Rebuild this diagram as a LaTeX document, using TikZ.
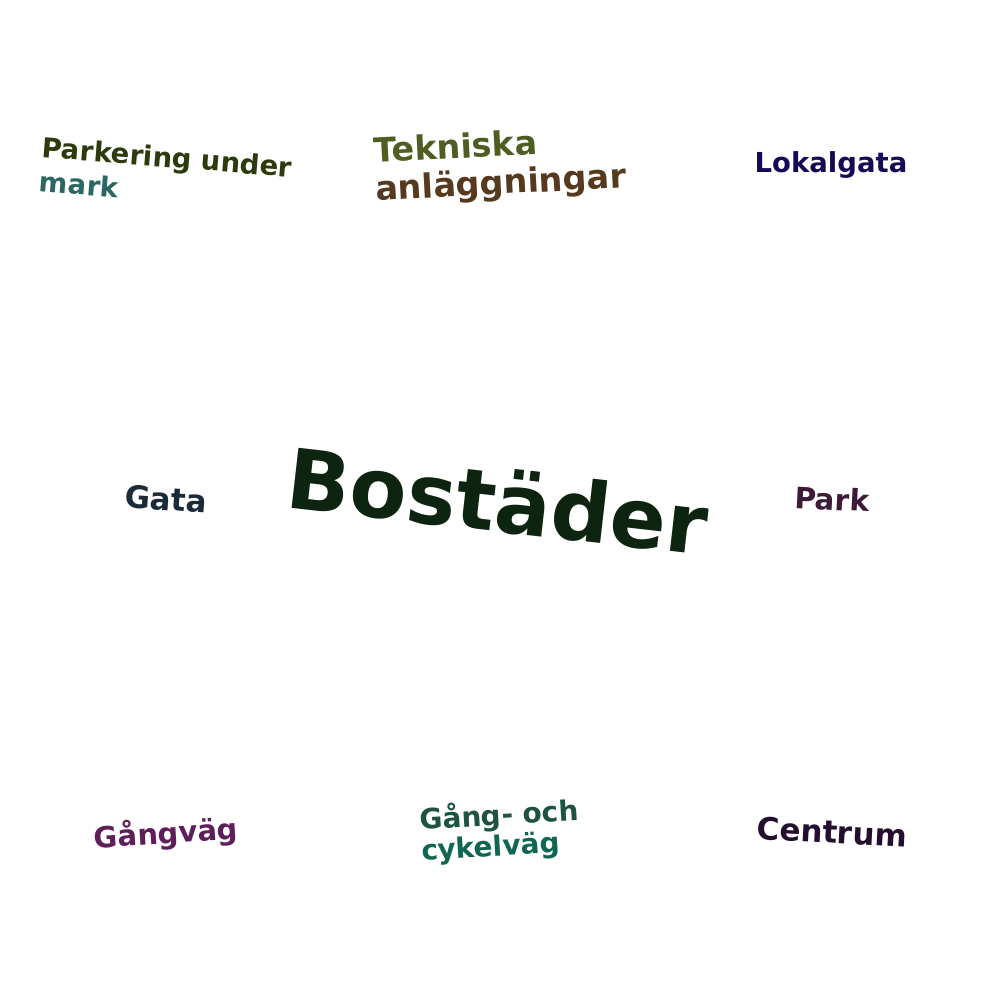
\documentclass[tikz,border=0pt]{standalone}
\usepackage{fontspec}
\setmainfont{DejaVu Sans}
\definecolor{cParkA}{HTML}{2D3A0C}
\definecolor{cParkB}{HTML}{2B6663}
\definecolor{cTekA}{HTML}{4E5E23}
\definecolor{cTekB}{HTML}{553A1F}
\definecolor{cLokal}{HTML}{140A55}
\definecolor{cGata}{HTML}{1B2A38}
\definecolor{cBost}{HTML}{0C2410}
\definecolor{cPark}{HTML}{3C1A38}
\definecolor{cGangv}{HTML}{5E1E5A}
\definecolor{cGcA}{HTML}{1E5243}
\definecolor{cGcB}{HTML}{0F6652}
\definecolor{cCentr}{HTML}{24102E}
\tikzset{word/.style={inner sep=0pt, outer sep=0pt, anchor=center, align=left},
  fsz/.style 2 args={font=\bfseries\fontsize{#1}{#2}\selectfont}}
\begin{document}
\begin{tikzpicture}[x=1pt,y=-1pt]
\useasboundingbox[fill=white] (0,0) rectangle (1000,1000);
\node[word, fsz={27.5}{34}, rotate=-4.5] (parkering) at (166,174) {\color{cParkA}Parkering under\\\color{cParkB}mark};
\node[word, fsz={33.5}{38}, rotate=3] (tekniska) at (500,166) {\color{cTekA}Tekniska\\\color{cTekB}anläggningar};
\node[word, fsz={27.5}{30}, text=cLokal] (lokalgata) at (831,165) {Lokalgata};
\node[word, fsz={31}{34}, text=cGata, rotate=-4] (gata) at (166,499) {Gata};
\node[word, fsz={83}{90}, text=cBost, rotate=-6.5] (bostader) at (498,500) {Bostäder};
\node[word, fsz={29.5}{32}, text=cPark, rotate=-3] (park) at (832,499) {Park};
\node[word, fsz={29}{32}, text=cGangv, rotate=3.5] (gangvag) at (166,834) {Gångväg};
\node[word, fsz={28}{31}, rotate=3.5] (gangoch) at (500,831) {\color{cGcA}Gång- och\\\color{cGcB}cykelväg};
\node[word, fsz={31}{34}, text=cCentr, rotate=-3] (centrum) at (832,832) {Centrum};
\end{tikzpicture}
\end{document}
